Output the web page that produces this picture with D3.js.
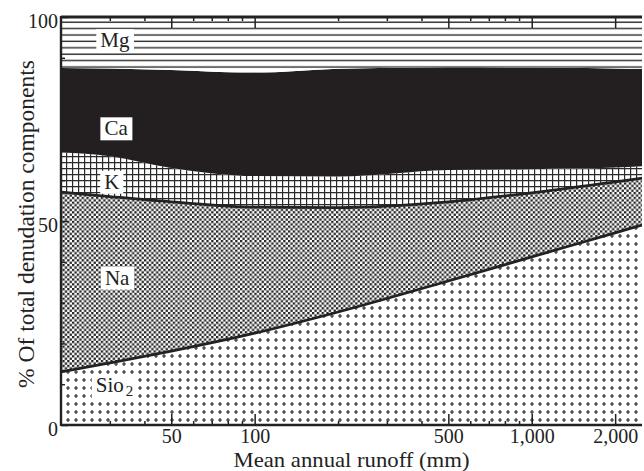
<!DOCTYPE html>
<html><head><meta charset="utf-8">
<script src="https://cdn.jsdelivr.net/npm/d3@7"></script>
<style>body{margin:0;background:#fff}svg{display:block}</style>
</head><body><svg id="c" width="644" height="471"></svg>
<script>
// ---- data (percent of total denudation components) ----
const runoff = [20, 30, 50, 100, 200, 500, 1000, 2000, 2500];
const sio2 = [13.0, 15.2, 18.1, 22.5, 27.7, 35.3, 41.2, 47.1, 49.0];
const na   = [44.1, 40.8, 36.6, 30.9, 25.6, 19.4, 15.7, 12.5, 11.5];
const k    = [ 9.7,  9.9,  8.3,  7.6,  7.6,  7.8,  5.8,  3.5,  2.9];
const ca   = [20.7, 21.5, 24.0, 25.3, 26.4, 25.2, 24.9, 24.3, 23.9];
const mg   = [12.5, 12.6, 13.0, 13.7, 12.7, 12.3, 12.4, 12.6, 12.7];
const keys = ["SiO2", "Na", "K", "Ca", "Mg"];
const xTickValues = [50, 100, 500, 1000, 2000];
const xTickLabels = ["50", "100", "500", "1,000", "2,000"];
const xMinorTicks = [30, 40, 60, 70, 80, 90, 200, 300, 400, 600, 700, 800, 900];
const yTickValues = [0, 50, 100];
const yTickLabels = ["0", "50", "100"];
const yMinorTicks = [10, 20, 30, 40, 60, 70, 80, 90];
const xTitle = "Mean annual runoff (mm)";
const yTitle = "% Of total denudation components";

const rows = runoff.map((r, i) => ({runoff: r, SiO2: sio2[i], Na: na[i], K: k[i], Ca: ca[i], Mg: mg[i]}));

const svg = d3.select("#c");
const L = 61, R = 642, T = 17, B = 425;
const x = d3.scaleLog().domain([20, 2500]).range([L, R]);
const y = d3.scaleLinear().domain([0, 100]).range([B, T]);
const ink = "#222";
const serif = "'Liberation Serif','Times New Roman',serif";

// ---- patterns ----
const defs = svg.append("defs");
function pat(id, w, h) {
  const p = defs.append("pattern").attr("id", id).attr("patternUnits", "userSpaceOnUse")
    .attr("width", w).attr("height", h);
  p.append("rect").attr("width", w).attr("height", h).attr("fill", "#fff");
  return p;
}
pat("pMg", 10, 6.4).append("line").attr("x1", 0).attr("x2", 10).attr("y1", 3).attr("y2", 3)
  .attr("stroke", "#2a2a2a").attr("stroke-width", 1.4);
pat("pK", 6, 6).append("path").attr("d", "M0,0.6H6M0.6,0V6")
  .attr("stroke", "#2a2a2a").attr("stroke-width", 1.2);
const pNa = pat("pNa", 4.8, 4.8);
pNa.append("rect").attr("x", 0).attr("y", 0).attr("width", 2.3).attr("height", 2.3).attr("fill", ink);
pNa.append("rect").attr("x", 2.4).attr("y", 2.4).attr("width", 2.3).attr("height", 2.3).attr("fill", ink);
pat("pSi", 8, 8).append("path").attr("d", "M2,4H6M4,2V6")
  .attr("stroke", "#2a2a2a").attr("stroke-width", 1.2);
defs.append("clipPath").attr("id", "clip").append("rect")
  .attr("x", L).attr("y", T).attr("width", R - L).attr("height", B - T);

const fills = {SiO2: "url(#pSi)", Na: "url(#pNa)", K: "url(#pK)", Ca: "#231f20", Mg: "url(#pMg)"};

// ---- stacked areas ----
const series = d3.stack().keys(keys)(rows);
const area = d3.area().curve(d3.curveMonotoneX)
  .x(d => x(d.data.runoff)).y0(d => y(d[0])).y1(d => y(d[1]));
const g = svg.append("g").attr("clip-path", "url(#clip)");
g.selectAll("path.area").data(series).join("path").attr("class", "area")
  .attr("d", area).attr("fill", s => fills[s.key]);

// boundary lines (SiO2/Na, Na/K)
const line = d3.line().curve(d3.curveMonotoneX).x(d => x(d.data.runoff)).y(d => y(d[1]));
g.selectAll("path.bound").data(series.slice(0, 2)).join("path").attr("class", "bound")
  .attr("d", line).attr("fill", "none").attr("stroke", ink).attr("stroke-width", 2.8);

// ---- axes ----
function styleAxis(sel) { sel.select(".domain").remove(); sel.selectAll("line").attr("stroke", ink).attr("stroke-width", 1.5); }
const gxb = svg.append("g").attr("transform", `translate(0,${B})`)
  .call(d3.axisBottom(x).tickValues(xTickValues).tickFormat((d, i) => xTickLabels[i]).tickSize(-11));
styleAxis(gxb);
gxb.selectAll("text").attr("y", 18).attr("dy", 0).attr("fill", ink)
  .style("font-family", serif).style("font-size", "20px");
svg.append("g").attr("transform", `translate(0,${B})`)
  .call(d3.axisBottom(x).tickValues(xMinorTicks).tickFormat("").tickSize(-4)).call(styleAxis);
svg.append("g").attr("transform", `translate(0,${T})`)
  .call(d3.axisTop(x).tickValues(xTickValues).tickFormat("").tickSize(-11)).call(styleAxis);
svg.append("g").attr("transform", `translate(0,${T})`)
  .call(d3.axisTop(x).tickValues(xMinorTicks).tickFormat("").tickSize(-4)).call(styleAxis);

const gyl = svg.append("g").attr("transform", `translate(${L},0)`)
  .call(d3.axisLeft(y).tickValues(yTickValues).tickFormat((d, i) => yTickLabels[i]).tickSize(-7));
styleAxis(gyl);
gyl.selectAll("text").attr("x", -3).attr("dy", 10.5).attr("fill", ink)
  .style("font-family", serif).style("font-size", "20px");
svg.append("g").attr("transform", `translate(${L},0)`)
  .call(d3.axisLeft(y).tickValues(yMinorTicks).tickFormat("").tickSize(-4)).call(styleAxis);

// frame
const frame = svg.append("g").attr("stroke", ink).attr("fill", "none");
frame.append("line").attr("x1", L).attr("x2", L).attr("y1", T - 1).attr("y2", B + 1).attr("stroke-width", 2.4);
frame.append("line").attr("x1", L).attr("x2", R).attr("y1", B).attr("y2", B).attr("stroke-width", 2.4);
frame.append("line").attr("x1", L).attr("x2", R).attr("y1", T).attr("y2", T).attr("stroke-width", 2.8);

// titles
svg.append("text").attr("x", (L + R) / 2).attr("y", 467).attr("text-anchor", "middle")
  .attr("textLength", 236).attr("lengthAdjust", "spacingAndGlyphs")
  .style("font-family", serif).style("font-size", "22px").attr("fill", ink).text(xTitle);
svg.append("text").attr("transform", `translate(34,${(T + B) / 2 + 3}) rotate(-90)`).attr("text-anchor", "middle")
  .attr("textLength", 328).attr("lengthAdjust", "spacingAndGlyphs")
  .style("font-family", serif).style("font-size", "22.5px").attr("fill", ink).text(yTitle);

// ---- in-chart labels (anchor: runoff, percent) ----
const labelNames = ["Mg", "Ca", "K", "Na", "Sio"];
const labelRunoff = [31.3, 31.6, 30.5, 31.9, 31.2];
const labelPct = [92.6, 71.0, 57.9, 34.4, 8.0];
labelNames.forEach((nm, i) => {
  const lg = svg.append("g");
  const t = lg.append("text").attr("x", x(labelRunoff[i])).attr("y", y(labelPct[i]))
    .attr("text-anchor", "middle").style("font-family", serif).style("font-size", "21px").attr("fill", ink);
  t.append("tspan").text(nm);
  if (nm === "Sio") t.append("tspan").attr("dx", 2).attr("dy", 4).style("font-size", "15px").text("2");
  const bb = t.node().getBBox();
  lg.insert("rect", "text").attr("x", bb.x - 4).attr("y", bb.y + 1).attr("width", bb.width + 8)
    .attr("height", bb.height - 1).attr("fill", "#fff");
});
</script></body></html>
